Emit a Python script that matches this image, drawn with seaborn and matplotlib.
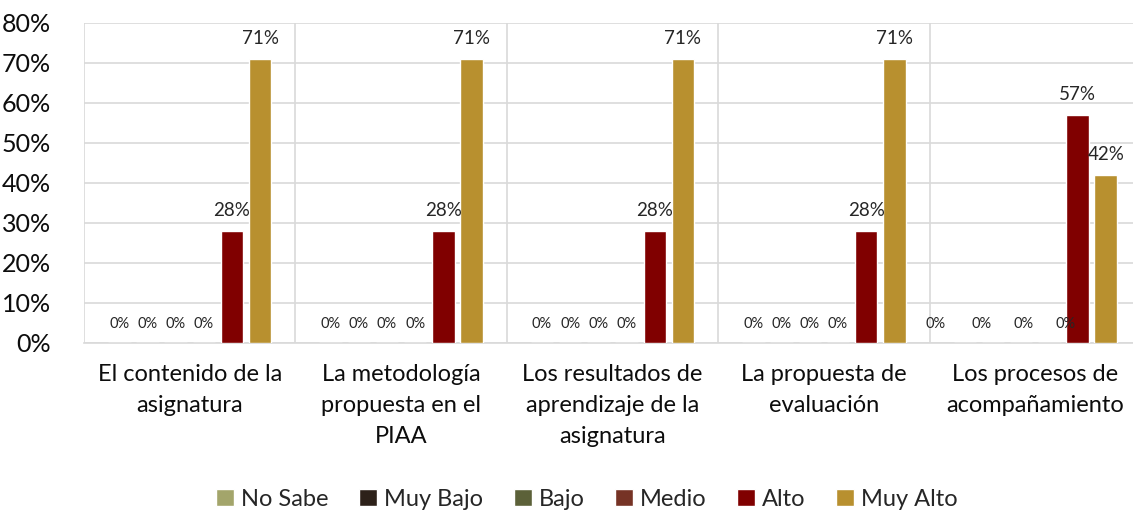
import pandas as pd
import matplotlib.pyplot as plt
import seaborn as sns
from matplotlib.ticker import PercentFormatter
from matplotlib.patches import Patch

# data
categorias = [
    'El contenido de la\nasignatura',
    'La metodología\npropuesta en el\nPIAA',
    'Los resultados de\naprendizaje de la\nasignatura',
    'La propuesta de\nevaluación',
    'Los procesos de\nacompañamiento',
]
niveles = ['No Sabe', 'Muy Bajo', 'Bajo', 'Medio', 'Alto', 'Muy Alto']
no_sabe = [0, 0, 0, 0, 0]
muy_bajo = [0, 0, 0, 0, 0]
bajo = [0, 0, 0, 0, 0]
medio = [0, 0, 0, 0, 0]
alto = [28, 28, 28, 28, 57]
muy_alto = [71, 71, 71, 71, 42]

colores = ['#A3A56B', '#2D2119', '#5C6139', '#763325', '#800000', '#B8902F']

series = [no_sabe, muy_bajo, bajo, medio, alto, muy_alto]
rows = []
for nivel, vals in zip(niveles, series):
    for cat, v in zip(categorias, vals):
        rows.append({'categoria': cat, 'nivel': nivel, 'valor': v})
df = pd.DataFrame(rows)

sns.set_style('white')
plt.rcParams['font.family'] = ['Lato', 'DejaVu Sans']

fig = plt.figure(figsize=(11.33, 5.13), dpi=100)
ax = fig.add_axes([84 / 1133, 1 - 343 / 513, 1057 / 1133, 320 / 513])

sns.barplot(data=df, x='categoria', y='valor', hue='nivel', hue_order=niveles,
            palette=colores, saturation=1, width=0.8, gap=0.2, ax=ax,
            legend=False, errorbar=None, zorder=3)

ax.set_ylim(0, 80)
ax.set_xlim(-0.5, len(categorias) - 0.5)
ax.set_yticks(range(0, 81, 10))
ax.yaxis.set_major_formatter(PercentFormatter(decimals=0))
ax.set_xlabel('')
ax.set_ylabel('')
ax.tick_params(axis='y', labelsize=18, length=0, pad=24, labelcolor='#0d0d0d')
ax.tick_params(axis='x', labelsize=17, length=0, pad=15, labelcolor='#0d0d0d')
for t in ax.get_xticklabels():
    t.set_linespacing(1.6)

ax.grid(axis='y', color='#d9d9d9', linewidth=1.2, zorder=0)
for b in range(len(categorias) + 1):
    ax.axvline(b - 0.5, color='#d9d9d9', linewidth=1.2, zorder=0)
for s in ['top', 'right', 'left']:
    ax.spines[s].set_visible(False)
ax.spines['bottom'].set_color('#d9d9d9')
ax.spines['bottom'].set_linewidth(1.2)

# value labels; in the last group the zero labels were moved sideways
mover_ultimo = [-0.137, -0.052, 0.009, 0.076, 0, 0]
ultimo = len(categorias) - 1
for i, cont in enumerate(ax.containers):
    for j, bar in enumerate(cont):
        v = bar.get_height()
        x = bar.get_x() + bar.get_width() / 2
        if j == ultimo:
            x += mover_ultimo[i]
        size = 10.5 if v == 0 else 13.5
        ax.annotate(f'{v:.0f}%', (x, v), xytext=(0, 9), textcoords='offset points',
                    ha='center', va='bottom', fontsize=size, color='#262626')

handles = [Patch(facecolor=c, label=n) for n, c in zip(niveles, colores)]
fig.legend(handles=handles, loc='center', bbox_to_anchor=(587 / 1133, 1 - 499 / 513),
           ncol=6, frameon=False, fontsize=17, handlelength=0.75, handleheight=0.75,
           handletextpad=0.3, columnspacing=1.3)

fig.savefig('out.png', dpi=100)
